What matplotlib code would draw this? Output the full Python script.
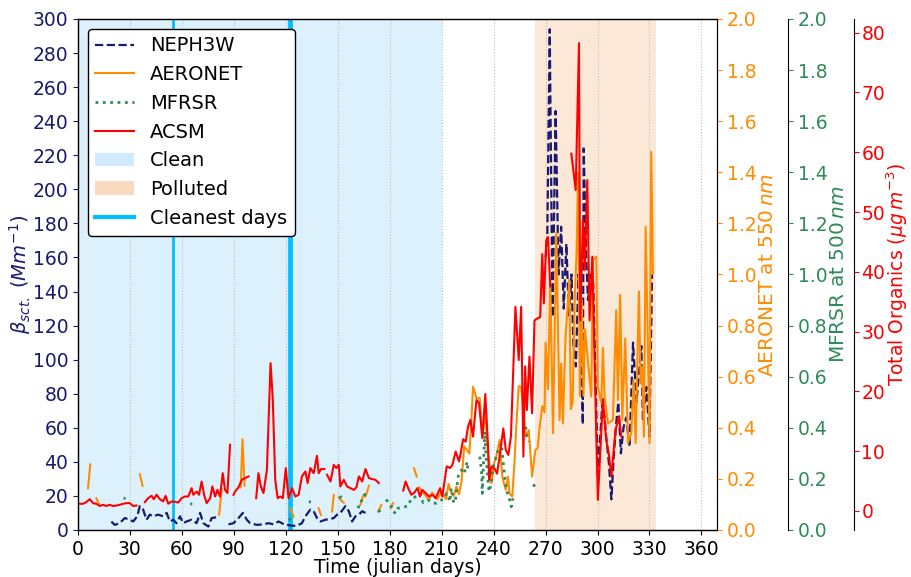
import numpy as np
import matplotlib
matplotlib.use("Agg")
import matplotlib.pyplot as plt
from matplotlib.lines import Line2D
from matplotlib.patches import Patch

nan = np.nan

# NEPH3W scattering coefficient (Mm^-1), daily means
neph_day = [19.3, 21.2, 24.1, 27.0, 29.9, 31.9, 34.2, 35.7, 37.6, 39.6,
            41.5, 43.4, 46.3, 49.2, 51.2, 53.1, 55.0, 56.9, 58.9, 60.8,
            62.7, 65.6, 68.5, 70.5, 72.4, 75.3, 77.2, 80.1, 83.0, 86.9,
            89.8, 92.7, 95.2, 97.5, 99.4, 103.3, 107.1, 110.0, 112.9, 115.8,
            118.7, 120.7, 123.6, 126.4, 129.3, 131.3, 134.2, 136.1, 138.0, 140.0,
            142.9, 145.8, 147.7, 149.6, 151.5, 154.4, 156.4, 158.3, 160.2, 162.2,
            164.1, 166.0, 168.0,
            270, 271, 272.4, 274, 275.8, 277.5, 279, 280.5, 282, 283.5,
            285, 286, 287.5, 289, 290.5, 291.5, 292, 293.5, 294.5, 296,
            297.5, 300.2, 303, 305, 306.5, 308, 309.5, 311, 312, 313.5,
            315, 316.5, 318.5, 320.5, 322.5, 325.3, 326.2, 328.2, 330, 331.5]
neph_val = [4.9, 3, 4, 7, 6, 5, 8, 14, 12, 6,
            9, 8, 9, 8, 10, 5, 6, 4, 8, 4,
            5, 6, 4, 10, 4, 2, 7, 7.5, nan, 3.3,
            4, 7, 10, 6, 4, 3, 3.3, 4, 3.3, 5,
            3.5, 3, 2.5, 2.5, 4, 8, 12, 11, 7, 5,
            6, 6.5, 7, 9, 10, 14, 11, 5, 8, 9,
            11, 10, nan,
            160, 172, 294, 125, 246, 150, 178, 130, 168, 125,
            150, 110, 96, 150, 110, 62, 224, 160, 135, 150,
            145, 33, 78, 55, 40, 18, 45, 65, 75, 45,
            60, 66, 49, 110, 75, 108, 65, 84, 55, 150]

# AERONET AOD at 550 nm
aer_day = [5.8, 7.1, 8.0,
           10.6, 12.2, 13.0,
           35.7, 37.3, 38.0,
           81.5, 83.0, 84.0,
           94.0, 95.0, 96.2, 97.0,
           122.6, 124.5, 125.0,
           139.0, 140.3, 141.0,
           146.7, 147.7, 148.5,
           150.6, 152.0, 153.5, 154.0,
           163.0, 164.0, 165.0, 166.0, 167.0, 168.0, 169.0,
           173.3, 175.2, 176.0,
           180.5, 182.0, 183.0,
           194.0, 195.6, 196.2,
           197.0, 198.5, 200.0, 201.5, 203.0, 204.5, 206.0, 207.5, 209.0, 210.8,
           212.5, 214.0, 215.5, 217.0, 218.5, 220.0, 221.5, 223.0, 224.5, 226.0,
           227.0, 228.1, 230.1, 232.0, 233.5, 235.4, 236.2, 238.7, 240.2, 241.5,
           243.5, 245.0, 247.0, 248.3, 249.2, 250.8, 252.0, 253.4, 254.5, 255.9,
           257.8, 258.8, 260.3, 262.2, 264.1, 265.4, 266.4,
           268.1, 269.4, 270.0, 271.4, 272.7, 274.3, 276.2, 278.1, 279.0, 280.0,
           281.5, 283.7, 284.6, 285.6, 286.9, 287.9, 288.8, 289.8, 290.9, 291.9,
           292.8, 294.2, 296.4, 297.4, 299.3, 300.2, 302.2, 303.1, 304.1, 306.0,
           308.9, 310.8, 311.8, 313.1, 314.3, 316.0, 317.6, 319.5, 320.8, 322.0,
           323.9, 324.9, 325.8, 326.8, 327.8, 329.1, 330.0, 331.0, 332.0]
aer_aod = [0.163, 0.257, nan,
           0.124, 0.102, nan,
           0.218, 0.173, nan,
           0.06, 0.16, nan,
           0.167, 0.355, 0.173, nan,
           0.085, 0.052, nan,
           0.085, 0.059, nan,
           0.072, 0.137, nan,
           0.128, 0.115, 0.107, nan,
           0.098, 0.12, 0.137, 0.131, 0.15, 0.173, nan,
           0.072, 0.098, nan,
           0.085, 0.105, nan,
           0.242, 0.209, nan,
           0.167, 0.15, 0.14, 0.127, 0.12, 0.147, 0.133, 0.12, 0.14, 0.14,
           0.12, 0.18, 0.147, 0.133, 0.17, 0.14, 0.19, 0.327, 0.313, 0.3,
           0.407, 0.561, 0.516, 0.516, 0.365, 0.469, 0.34, 0.183, 0.26, 0.287,
           0.352, 0.209, 0.157, 0.209, 0.143, 0.131, 0.26, 0.443, 0.563, 0.56,
           0.417, 0.365, 0.391, 0.209, 0.313, 0.32, 0.391,
           0.485, 0.46, 0.733, 0.551, 0.979, 0.379, 1.165, 0.43, 0.651, 0.417,
           0.75, 0.979, 0.473, 0.499, 0.913, 1.082, 1.4, 0.525, 0.9, 0.525,
           0.786, 0.681, 0.522, 1.057, 1.07, 0.56, 0.497, 0.712, 0.522, 0.417,
           0.431, 0.86, 0.509, 0.92, 0.431, 0.75, 0.34, 0.38, 0.587, 0.34,
           0.933, 0.573, 0.64, 0.365, 1.187, 0.717, 0.34, 1.48, 1.005]

# MFRSR AOD at 500 nm
mfr_day = [26.3, 27.5, 28.0,
           64.8, 66.0, 66.5,
           121.8, 123.0, 123.5,
           133.3, 134.5, 135.0,
           151.0, 152.0, 153.0, 154.0,
           161.8, 162.7, 164.6, 165.6, 166.6, 167.5,
           173.3, 175.2, 176.0,
           178.1, 179.6, 181.0, 182.0, 183.5, 184.8, 186.5, 188.7, 190.6, 192.5,
           195.4, 197.3, 199.3, 202.1, 205.0, 207.0, 209.8, 211.8, 212.7, 213.7,
           214.7, 215.6, 217.0, 218.1, 219.5, 221.4, 223.0, 224.7, 225.2, 228.0,
           232.0, 233.0, 233.5, 234.9, 235.4, 237.3, 238.7, 239.6, 242.0, 244.5,
           245.4, 246.4, 247.4, 249.3, 250.2, 251.2, 254.0,
           258.5, 259.3, 260.4, 261.5,
           263.1, 264.3, 265.0]
mfr_aod = [0.124, 0.124, nan,
           0.102, 0.102, nan,
           0.039, 0.045, nan,
           0.11, 0.11, nan,
           0.124, 0.13, 0.117, nan,
           0.085, 0.111, 0.117, 0.137, 0.157, nan,
           0.072, 0.078, nan,
           0.12, 0.098, 0.091, 0.072, 0.065, 0.085, 0.088, 0.091, 0.094, 0.124,
           0.131, 0.143, 0.107, 0.117, 0.105, 0.105, 0.117, 0.124, 0.143, 0.137,
           0.111, 0.163, 0.105, 0.124, 0.209, 0.235, 0.22, 0.267, 0.235, nan,
           0.287, 0.235, 0.143, 0.385, 0.313, 0.15, 0.183, 0.241, 0.3, 0.339,
           0.273, 0.209, 0.157, 0.117, 0.091, 0.124, nan,
           0.404, 0.365, 0.345, nan,
           0.169, 0.196, nan]

# ACSM total organics (ug m^-3)
acsm_day = [0, 2.9, 4.8, 6.8, 8.7, 10.6, 12.5, 14.5, 16.4, 18.3,
            20.3, 22.2, 24.1, 26, 28, 29.9, 31.9, 33.8, 36,
            38.6, 40.5, 42.5, 43.8, 45.4, 47.3, 49.2, 50.6, 52.1, 54.1,
            56, 57.9, 59.8, 61.8, 63.7, 65.6, 66.6, 68.5, 69.9, 71.4,
            72.8, 74.3, 76.3, 77.6, 79.2, 80.5, 82, 83.6, 84.9, 86.3,
            87.8, 88.8,
            89.8, 90.7, 92.7, 94.6, 96.5, 98.5, 100.5,
            102.9, 104.2, 105.6, 107.1, 109.1, 110.2, 111.2, 112.5, 113.9, 115.3,
            116.8, 118.3, 120, 121.6, 123.6, 125.5, 127.4, 129.3, 131.3, 132.6,
            134.2, 136.1, 138, 139, 140.3, 142.3, 143.0,
            143.8, 145.8, 147.7, 149.2, 150.6, 151.5, 153.5, 155.4, 157.3, 159.3,
            160.8, 162.2, 164.1, 166, 168, 169.9, 171.8, 173.7, 180,
            187.8, 189.2, 191.1, 192.5, 194, 196, 197.5, 198.8, 200.8, 202.7,
            204.6, 206.6, 209.1, 210.4, 212.9, 214.9, 216.2, 218.1, 220, 220.8,
            222.4, 223.9, 225.2, 226.6, 228.1, 230.1, 231.6, 233.5, 235.2, 236.8,
            237.4, 238.7, 240.5, 242, 243.7, 245.6, 247, 248.5, 250, 252.6,
            254.5, 255.9, 257.2, 258.2, 259.2, 260.7, 262.2, 263.6, 264.9, 266.9,
            268.1, 269, 270.4, 271.4, 272.7, 278,
            284.9, 287.4, 289.3, 290, 291.6, 292.6, 294.1, 295.4, 297, 297.9,
            299.3, 300.2, 303.1, 305, 306.5, 308, 310.4, 312.4, 313.7]
acsm_org = [1.18, 1.18, 1.46, 1.95, 1.29, 1.18, 0.81, 1.01, 0.81, 1.01,
            0.81, 0.89, 1.01, 1.18, 1.29, 1.29, 0.81, 0.89, nan,
            1.46, 2.12, 2.52, 1.95, 2.69, 1.95, 1.58, 2.52, 1.18, 1.58,
            1.52, 1.38, 2.12, 2.4, 2.4, 3.8, 2.69, 3.23, 2.69, 4.91,
            2.69, 1.29, 2.12, 4.08, 2.4, 3.51, 2.4, 6.3, 3.51, 2.97,
            11.06, nan,
            2.69, 3.23, 3.94, 5.19, 5.48, 5.76, nan,
            2.12, 6.3, 4.08, 2.97, 6.87, 16.36, 24.73, 18.61, 5.19, 2.12,
            2.4, 2.12, 7.16, 2.12, 3.8, 2.4, 2.69, 5.76, 6.59, 4.65,
            7.16, 6.3, 9.21, 6.3, 6.99, 6.99, nan,
            6.05, 4.91, 7.7, 7.16, 7.7, 4.08, 5.19, 4.08, 3.8, 3.51,
            3.94, 5.76, 4.91, 6.99, 5.48, 5.31, 5.19, 4.65, nan,
            3.4, 4.91, 3.51, 2.69, 2.97, 3.8, 2.4, 3.51, 2.97, 2.4,
            2.69, 2.12, 3.8, 2.4, 7.44, 7.16, 7.7, 9.92, 8.27, 9.35,
            11.97, 11.57, 14.08, 15.22, 12.43, 18.55, 18.01, 12.17, 19.55, 10.75,
            5.19, 7.41, 7.07, 6.22, 9.64, 13.79, 10.21, 9.35, 12.43, 34.13,
            25.24, 34.13, 9.07, 24.16, 16.87, 25.81, 16.33, 31.85, 32.14, 32.42,
            42.96, 34.7, 45.24, 45.81, 37.55, nan,
            59.76, 53.67, 78.27, 31.85, 48.65, 40.31, 55.35, 31.85, 42.53, 30.82,
            12.43, 1.83, 18.55, 11.86, 9.64, 5.73, 13.54, 15.76, 12.43]

clean_period = (0, 210)
polluted_period = (264, 334)
cleanest_days = [55, 122, 123]

plt.rcParams['font.size'] = 13.5

fig = plt.figure(figsize=(9.12, 5.77), dpi=100)
ax = fig.add_axes([0.0855, 0.0815, 0.7007, 0.8856])
ax_aer = ax.twinx()
ax_mfr = ax.twinx()
ax_org = ax.twinx()
ax_mfr.spines['right'].set_position(('axes', 1.111))
ax_org.spines['right'].set_position(('axes', 1.215))

# background periods and cleanest days
ax.axvspan(*clean_period, color='lightskyblue', alpha=0.28, lw=0)
ax.axvspan(*polluted_period, color='sandybrown', alpha=0.25, lw=0)
for d in cleanest_days:
    ax.axvline(d, color='deepskyblue', lw=2)

ax.plot(neph_day, neph_val, '--', color='midnightblue', lw=1.6)
ax_aer.plot(aer_day, aer_aod, '-', color='darkorange', lw=1.5)
ax_mfr.plot(mfr_day, mfr_aod, ':', color='seagreen', lw=2)
ax_org.plot(acsm_day, acsm_org, '-', color='red', lw=1.5)

ax.set_xlim(0, 369)
ax.set_xticks(range(0, 361, 30))
ax.grid(axis='x', ls=':', color='0.75', lw=0.8)

ax.set_ylim(0, 300)
ax.set_yticks(range(0, 301, 20))
ax_aer.set_ylim(0, 2)
ax_aer.set_yticks(np.arange(0, 2.01, 0.2))
ax_mfr.set_ylim(0, 2)
ax_mfr.set_yticks(np.arange(0, 2.01, 0.2))
ax_org.set_ylim(-3.2, 82.3)
ax_org.set_yticks(range(0, 81, 10))

ax.set_xlabel('Time (julian days)', fontsize=13.5, labelpad=-0.5)
ax.set_ylabel(r'$\beta_{sct.}\ (Mm^{-1})$', color='midnightblue', fontsize=14, labelpad=0)
ax_aer.set_ylabel(r'AERONET at 550$\,nm$', color='darkorange', fontsize=14.5, labelpad=1)
ax_mfr.set_ylabel(r'MFRSR at 500$\,nm$', color='seagreen', fontsize=14.5, labelpad=1)
ax_org.set_ylabel(r'Total Organics ($\mu g\,m^{-3}$)', color='red', fontsize=13.5, labelpad=-0.5)

ax.tick_params(axis='y', colors='midnightblue')
ax_aer.tick_params(axis='y', colors='darkorange')
ax_mfr.tick_params(axis='y', colors='seagreen')
ax_org.tick_params(axis='y', colors='red', pad=1.5)

handles = [
    Line2D([], [], ls='--', color='midnightblue', lw=1.6),
    Line2D([], [], color='darkorange', lw=1.5),
    Line2D([], [], ls=':', color='seagreen', lw=2),
    Line2D([], [], color='red', lw=1.5),
    Patch(facecolor='lightskyblue', alpha=0.4),
    Patch(facecolor='sandybrown', alpha=0.4),
    Line2D([], [], color='deepskyblue', lw=3),
]
labels = ['NEPH3W', 'AERONET', 'MFRSR', 'ACSM', 'Clean', 'Polluted', 'Cleanest days']
ax_org.legend(handles, labels, loc='upper left', fontsize=14,
              edgecolor='black', framealpha=1)

fig.savefig('out.png', dpi=100)
